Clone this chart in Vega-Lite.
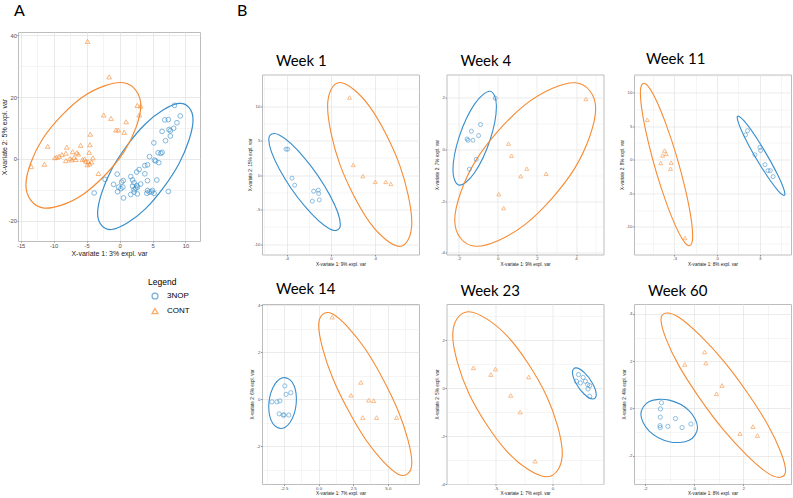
{
"$schema": "https://vega.github.io/schema/vega-lite/v6.json",
"background": "white",
"padding": {"left": 0, "top": 2, "right": 2, "bottom": 0},
"config": {
  "view": {"stroke": "#bdbdbd", "strokeWidth": 1},
  "font": "Liberation Sans",
  "axis": {"domain": false, "labelColor": "#4d4d4d", "labelFontSize": 4.4, "labelPadding": 0.5, "tickSize": 1.5, "tickColor": "#333333", "tickWidth": 0.5, "titleFontSize": 4.6, "titleFontWeight": "normal", "titleColor": "#1a1a1a", "titlePadding": 1.5, "gridColor": "#e3e3e3", "labelFont": "Liberation Sans", "titleFont": "Liberation Sans", "labelOverlap": false, "labelFlush": false},
  "title": {"font": "Lato", "fontWeight": "normal", "color": "#000000", "anchor": "start"}
},
"datasets": {
  "Ap": [
    {"g":"CONT","x":-4.85,"y":37.97},{"g":"CONT","x":-1.58,"y":26.5},{"g":"CONT","x":2.7,"y":17.3},{"g":"CONT","x":3.2,"y":17.1},{"g":"CONT","x":3.0,"y":14.2},{"g":"CONT","x":-2.4,"y":14.2},{"g":"CONT","x":-1.3,"y":13.1},{"g":"CONT","x":1.0,"y":12.0},{"g":"CONT","x":-0.55,"y":9.35},{"g":"CONT","x":-0.2,"y":9.35},{"g":"CONT","x":0.7,"y":8.6},{"g":"CONT","x":-4.45,"y":8.0},{"g":"CONT","x":-10.9,"y":4.1},{"g":"CONT","x":-8.0,"y":3.8},{"g":"CONT","x":-5.9,"y":4.4},{"g":"CONT","x":-4.5,"y":4.6},{"g":"CONT","x":-13.4,"y":-2.4},{"g":"CONT","x":-11.4,"y":-1.7},{"g":"CONT","x":-3.2,"y":-4.7},
    {"g":"CONT","x":-9.5,"y":0.55},{"g":"CONT","x":-9.15,"y":0.86},{"g":"CONT","x":-8.74,"y":1.4},{"g":"CONT","x":-8.14,"y":1.84},{"g":"CONT","x":-7.12,"y":2.35},{"g":"CONT","x":-6.47,"y":2.03},{"g":"CONT","x":-6.27,"y":1.6},{"g":"CONT","x":-7.53,"y":0.1},{"g":"CONT","x":-8.14,"y":-0.55},{"g":"CONT","x":-7.27,"y":-0.3},{"g":"CONT","x":-6.62,"y":-0.2},{"g":"CONT","x":-5.61,"y":-0.2},{"g":"CONT","x":-5.1,"y":-0.75},{"g":"CONT","x":-4.76,"y":-0.85},{"g":"CONT","x":-4.55,"y":-1.6},{"g":"CONT","x":-4.24,"y":-0.97},{"g":"CONT","x":-4.05,"y":0.32},{"g":"CONT","x":-4.6,"y":2.15},{"g":"CONT","x":-9.8,"y":0.4},{"g":"CONT","x":-6.9,"y":0.5},{"g":"CONT","x":-5.3,"y":0.0},{"g":"CONT","x":-4.9,"y":-1.9},
    {"g":"3NOP","x":8.33,"y":17.3},{"g":"3NOP","x":9.2,"y":13.9},{"g":"3NOP","x":6.86,"y":12.6},{"g":"3NOP","x":7.4,"y":12.7},{"g":"3NOP","x":8.7,"y":11.7},{"g":"3NOP","x":8.2,"y":9.9},{"g":"3NOP","x":7.5,"y":9.5},{"g":"3NOP","x":7.7,"y":9.1},{"g":"3NOP","x":6.45,"y":8.9},{"g":"3NOP","x":7.7,"y":7.4},{"g":"3NOP","x":6.97,"y":5.9},{"g":"3NOP","x":5.2,"y":5.2},{"g":"3NOP","x":5.85,"y":2.0},{"g":"3NOP","x":6.45,"y":2.15},{"g":"3NOP","x":6.26,"y":1.8},{"g":"3NOP","x":4.55,"y":0.75},{"g":"3NOP","x":5.3,"y":-0.4},{"g":"3NOP","x":5.5,"y":-0.65},{"g":"3NOP","x":5.95,"y":-1.2},{"g":"3NOP","x":3.83,"y":-2.15},{"g":"3NOP","x":4.24,"y":-1.9},{"g":"3NOP","x":2.97,"y":-3.4},{"g":"3NOP","x":2.6,"y":-4.2},{"g":"3NOP","x":3.83,"y":-4.8},{"g":"3NOP","x":-0.36,"y":-4.9},{"g":"3NOP","x":5.65,"y":-6.8},{"g":"3NOP","x":-2.2,"y":-6.6},{"g":"3NOP","x":4.24,"y":-7.0},{"g":"3NOP","x":0.3,"y":-7.5},{"g":"3NOP","x":0.56,"y":-7.0},{"g":"3NOP","x":1.7,"y":-5.7},{"g":"3NOP","x":1.97,"y":-6.8},{"g":"3NOP","x":2.2,"y":-7.7},{"g":"3NOP","x":1.97,"y":-8.8},{"g":"3NOP","x":2.47,"y":-9.45},{"g":"3NOP","x":2.73,"y":-9.1},{"g":"3NOP","x":2.2,"y":-9.9},{"g":"3NOP","x":-0.9,"y":-8.2},{"g":"3NOP","x":-0.15,"y":-9.1},{"g":"3NOP","x":0.2,"y":-9.6},{"g":"3NOP","x":0.5,"y":-9.1},{"g":"3NOP","x":-0.3,"y":-10.6},{"g":"3NOP","x":0.6,"y":-12.6},{"g":"3NOP","x":1.7,"y":-11.5},{"g":"3NOP","x":2.2,"y":-10.7},{"g":"3NOP","x":2.7,"y":-11.3},{"g":"3NOP","x":4.24,"y":-10.2},{"g":"3NOP","x":4.5,"y":-10.7},{"g":"3NOP","x":4.14,"y":-11.1},{"g":"3NOP","x":5.0,"y":-10.2},{"g":"3NOP","x":5.24,"y":-11.1},{"g":"3NOP","x":4.85,"y":-10.7},{"g":"3NOP","x":7.4,"y":-10.5},{"g":"3NOP","x":-3.85,"y":-11.0},{"g":"3NOP","x":3.2,"y":-8.1},{"g":"3NOP","x":2.6,"y":-8.6}
  ],
  "Ae": [
    {"g":"3NOP","i":0,"x":11.15,"y":12.67},{"g":"3NOP","i":1,"x":9.03,"y":17.95},{"g":"3NOP","i":2,"x":3.91,"y":11.3},{"g":"3NOP","i":3,"x":-1.21,"y":-3.39},{"g":"3NOP","i":4,"x":-3.33,"y":-17.51},{"g":"3NOP","i":5,"x":-1.21,"y":-22.79},{"g":"3NOP","i":6,"x":3.91,"y":-16.14},{"g":"3NOP","i":7,"x":9.03,"y":-1.45},
    {"g":"CONT","i":0,"x":3.22,"y":17.19},{"g":"CONT","i":1,"x":0.67,"y":24.6},{"g":"CONT","i":2,"x":-5.49,"y":20.17},{"g":"CONT","i":3,"x":-11.65,"y":6.51},{"g":"CONT","i":4,"x":-14.2,"y":-8.39},{"g":"CONT","i":5,"x":-11.65,"y":-15.8},{"g":"CONT","i":6,"x":-5.49,"y":-11.37},{"g":"CONT","i":7,"x":0.67,"y":2.29}
  ],
  "w1p": [
    {"g":"3NOP","x":-4.05,"y":3.77},{"g":"3NOP","x":-3.9,"y":3.77},{"g":"3NOP","x":-3.51,"y":-0.43},{"g":"3NOP","x":-3.27,"y":-1.45},{"g":"3NOP","x":-1.56,"y":-2.32},{"g":"3NOP","x":-1.14,"y":-2.17},{"g":"3NOP","x":-1.11,"y":-2.65},{"g":"3NOP","x":-1.68,"y":-3.77},{"g":"3NOP","x":-1.05,"y":-3.58},
    {"g":"CONT","x":1.68,"y":11.26},{"g":"CONT","x":2.02,"y":1.49},{"g":"CONT","x":2.88,"y":-0.14},{"g":"CONT","x":4.0,"y":-0.97},{"g":"CONT","x":4.95,"y":-0.97},{"g":"CONT","x":5.41,"y":-1.26}
  ],
  "w1e": [
    {"g":"3NOP","i":0,"x":0.85,"y":-7.15},{"g":"3NOP","i":1,"x":-0.1,"y":-2.89},{"g":"3NOP","i":2,"x":-2.38,"y":2.48},{"g":"3NOP","i":3,"x":-4.66,"y":5.82},{"g":"3NOP","i":4,"x":-5.61,"y":5.17},{"g":"3NOP","i":5,"x":-4.66,"y":0.91},{"g":"3NOP","i":6,"x":-2.38,"y":-4.46},{"g":"3NOP","i":7,"x":-0.1,"y":-7.8},
    {"g":"CONT","i":0,"x":7.3,"y":-6.86},{"g":"CONT","i":1,"x":6.19,"y":1.53},{"g":"CONT","i":2,"x":3.5,"y":9.94},{"g":"CONT","i":3,"x":0.81,"y":13.43},{"g":"CONT","i":4,"x":-0.3,"y":9.96},{"g":"CONT","i":5,"x":0.81,"y":1.57},{"g":"CONT","i":6,"x":3.5,"y":-6.84},{"g":"CONT","i":7,"x":6.19,"y":-10.33}
  ],
  "w4p": [
    {"g":"3NOP","x":-0.13,"y":1.99},{"g":"3NOP","x":-0.88,"y":0.97},{"g":"3NOP","x":-1.35,"y":0.71},{"g":"3NOP","x":-0.98,"y":0.54},{"g":"3NOP","x":-1.57,"y":0.41},{"g":"3NOP","x":-1.52,"y":0.36},{"g":"3NOP","x":-1.27,"y":0.36},{"g":"3NOP","x":-1.1,"y":-0.38},{"g":"3NOP","x":-1.45,"y":-0.76},
    {"g":"CONT","x":4.5,"y":1.96},{"g":"CONT","x":0.55,"y":0.23},{"g":"CONT","x":0.7,"y":-0.24},{"g":"CONT","x":1.48,"y":-0.74},{"g":"CONT","x":1.17,"y":-1.03},{"g":"CONT","x":2.47,"y":-0.94},{"g":"CONT","x":0.05,"y":-1.73},{"g":"CONT","x":0.3,"y":-2.27}
  ],
  "w4e": [
    {"g":"3NOP","i":0,"x":-0.07,"y":1.68},{"g":"3NOP","i":1,"x":-0.395,"y":2.26},{"g":"3NOP","i":2,"x":-1.18,"y":1.77},{"g":"3NOP","i":3,"x":-1.965,"y":0.51},{"g":"3NOP","i":4,"x":-2.29,"y":-0.8},{"g":"3NOP","i":5,"x":-1.965,"y":-1.38},{"g":"3NOP","i":6,"x":-1.18,"y":-0.89},{"g":"3NOP","i":7,"x":-0.395,"y":0.37},
    {"g":"CONT","i":0,"x":5.0,"y":1.58},{"g":"CONT","i":1,"x":3.95,"y":2.59},{"g":"CONT","i":2,"x":1.4,"y":1.74},{"g":"CONT","i":3,"x":-1.15,"y":-0.46},{"g":"CONT","i":4,"x":-2.2,"y":-2.74},{"g":"CONT","i":5,"x":-1.15,"y":-3.75},{"g":"CONT","i":6,"x":1.4,"y":-2.9},{"g":"CONT","i":7,"x":3.95,"y":-0.7}
  ],
  "w11p": [
    {"g":"CONT","x":-4.91,"y":5.94},{"g":"CONT","x":-3.7,"y":1.37},{"g":"CONT","x":-3.84,"y":0.63},{"g":"CONT","x":-3.58,"y":0.88},{"g":"CONT","x":-3.96,"y":-0.49},{"g":"CONT","x":-3.23,"y":-0.44},{"g":"CONT","x":-3.28,"y":-1.33},{"g":"CONT","x":-2.26,"y":-11.65},
    {"g":"3NOP","x":2.14,"y":4.32},{"g":"3NOP","x":2.0,"y":3.69},{"g":"3NOP","x":3.01,"y":1.87},{"g":"3NOP","x":3.06,"y":1.37},{"g":"3NOP","x":2.66,"y":0.74},{"g":"3NOP","x":3.37,"y":-0.74},{"g":"3NOP","x":3.58,"y":-1.62},{"g":"3NOP","x":3.74,"y":-1.62},{"g":"3NOP","x":3.94,"y":-2.51}
  ],
  "w11e": [
    {"g":"CONT","i":0,"x":-1.72,"y":-11.42},{"g":"CONT","i":1,"x":-2.26,"y":-4.19},{"g":"CONT","i":2,"x":-3.56,"y":5.07},{"g":"CONT","i":3,"x":-4.86,"y":10.95},{"g":"CONT","i":4,"x":-5.4,"y":10.0},{"g":"CONT","i":5,"x":-4.86,"y":2.77},{"g":"CONT","i":6,"x":-3.56,"y":-6.49},{"g":"CONT","i":7,"x":-2.26,"y":-12.37},
    {"g":"3NOP","i":0,"x":4.77,"y":-5.13},{"g":"3NOP","i":1,"x":4.28,"y":-2.32},{"g":"3NOP","i":2,"x":3.09,"y":2.19},{"g":"3NOP","i":3,"x":1.9,"y":5.77},{"g":"3NOP","i":4,"x":1.41,"y":6.31},{"g":"3NOP","i":5,"x":1.9,"y":3.5},{"g":"3NOP","i":6,"x":3.09,"y":-1.01},{"g":"3NOP","i":7,"x":4.28,"y":-4.59}
  ],
  "w14p": [
    {"g":"CONT","x":0.98,"y":3.5},{"g":"CONT","x":3.05,"y":0.72},{"g":"CONT","x":2.34,"y":0.17},{"g":"CONT","x":3.62,"y":-0.04},{"g":"CONT","x":3.98,"y":-0.06},{"g":"CONT","x":3.19,"y":-0.78},{"g":"CONT","x":4.19,"y":-0.78},{"g":"CONT","x":5.64,"y":-0.78},
    {"g":"3NOP","x":-2.45,"y":0.57},{"g":"3NOP","x":-2.02,"y":0.28},{"g":"3NOP","x":-2.36,"y":0.21},{"g":"3NOP","x":-3.38,"y":-0.11},{"g":"3NOP","x":-3.02,"y":-0.11},{"g":"3NOP","x":-2.81,"y":-0.07},{"g":"3NOP","x":-2.86,"y":-0.62},{"g":"3NOP","x":-2.57,"y":-0.67},{"g":"3NOP","x":-2.5,"y":-0.67},{"g":"3NOP","x":-2.16,"y":-0.67}
  ],
  "w14e": [
    {"g":"3NOP","i":0,"x":-1.61,"y":0.0},{"g":"3NOP","i":1,"x":-1.9,"y":0.715},{"g":"3NOP","i":2,"x":-2.61,"y":0.914},{"g":"3NOP","i":3,"x":-3.32,"y":0.484},{"g":"3NOP","i":4,"x":-3.61,"y":-0.32},{"g":"3NOP","i":5,"x":-3.32,"y":-1.035},{"g":"3NOP","i":6,"x":-2.61,"y":-1.234},{"g":"3NOP","i":7,"x":-1.9,"y":-0.804},
    {"g":"CONT","i":0,"x":6.74,"y":-2.69},{"g":"CONT","i":1,"x":5.75,"y":-0.49},{"g":"CONT","i":2,"x":3.37,"y":2.14},{"g":"CONT","i":3,"x":0.99,"y":3.64},{"g":"CONT","i":4,"x":0.0,"y":3.14},{"g":"CONT","i":5,"x":0.99,"y":0.94},{"g":"CONT","i":6,"x":3.37,"y":-1.69},{"g":"CONT","i":7,"x":5.75,"y":-3.19}
  ],
  "w23p": [
    {"g":"CONT","x":-6.98,"y":0.84},{"g":"CONT","x":-5.03,"y":0.79},{"g":"CONT","x":-5.44,"y":0.56},{"g":"CONT","x":-2.09,"y":0.46},{"g":"CONT","x":-3.69,"y":-0.31},{"g":"CONT","x":-2.85,"y":-1.0},{"g":"CONT","x":-1.54,"y":-3.05},
    {"g":"3NOP","x":2.3,"y":0.56},{"g":"3NOP","x":2.71,"y":0.44},{"g":"3NOP","x":2.12,"y":0.28},{"g":"3NOP","x":2.47,"y":0.21},{"g":"3NOP","x":2.91,"y":0.28},{"g":"3NOP","x":3.11,"y":0.14},{"g":"3NOP","x":3.29,"y":0.1},{"g":"3NOP","x":3.14,"y":-0.04},{"g":"3NOP","x":3.29,"y":-0.35}
  ],
  "w23e": [
    {"g":"3NOP","i":0,"x":3.87,"y":-0.28},{"g":"3NOP","i":1,"x":3.56,"y":0.18},{"g":"3NOP","i":2,"x":2.82,"y":0.64},{"g":"3NOP","i":3,"x":2.08,"y":0.84},{"g":"3NOP","i":4,"x":1.77,"y":0.66},{"g":"3NOP","i":5,"x":2.08,"y":0.2},{"g":"3NOP","i":6,"x":2.82,"y":-0.26},{"g":"3NOP","i":7,"x":3.56,"y":-0.46},
    {"g":"CONT","i":0,"x":0.87,"y":-2.72},{"g":"CONT","i":1,"x":-0.55,"y":-0.3},{"g":"CONT","i":2,"x":-3.97,"y":2.15},{"g":"CONT","i":3,"x":-7.39,"y":3.18},{"g":"CONT","i":4,"x":-8.81,"y":2.2},{"g":"CONT","i":5,"x":-7.39,"y":-0.22},{"g":"CONT","i":6,"x":-3.97,"y":-2.67},{"g":"CONT","i":7,"x":-0.55,"y":-3.7}
  ],
  "w60p": [
    {"g":"CONT","x":0.43,"y":2.39},{"g":"CONT","x":0.48,"y":1.92},{"g":"CONT","x":-0.38,"y":1.86},{"g":"CONT","x":1.14,"y":0.97},{"g":"CONT","x":0.91,"y":0.62},{"g":"CONT","x":2.4,"y":-0.77},{"g":"CONT","x":1.87,"y":-1.07},{"g":"CONT","x":2.58,"y":-1.15},
    {"g":"3NOP","x":-1.33,"y":0.24},{"g":"3NOP","x":-1.37,"y":-0.02},{"g":"3NOP","x":-1.38,"y":-0.37},{"g":"3NOP","x":-0.76,"y":-0.43},{"g":"3NOP","x":-1.39,"y":-0.73},{"g":"3NOP","x":-1.38,"y":-0.81},{"g":"3NOP","x":-1.07,"y":-0.76},{"g":"3NOP","x":-0.49,"y":-0.81},{"g":"3NOP","x":-0.13,"y":-0.66}
  ],
  "w60e": [
    {"g":"3NOP","i":0,"x":0.14,"y":-0.81},{"g":"3NOP","i":1,"x":-0.2,"y":-0.1},{"g":"3NOP","i":2,"x":-1.015,"y":0.35},{"g":"3NOP","i":3,"x":-1.83,"y":0.29},{"g":"3NOP","i":4,"x":-2.17,"y":-0.25},{"g":"3NOP","i":5,"x":-1.83,"y":-0.96},{"g":"3NOP","i":6,"x":-1.015,"y":-1.41},{"g":"3NOP","i":7,"x":-0.2,"y":-1.35},
    {"g":"CONT","i":0,"x":3.73,"y":-2.63},{"g":"CONT","i":1,"x":2.99,"y":-0.67},{"g":"CONT","i":2,"x":1.19,"y":2.02},{"g":"CONT","i":3,"x":-0.61,"y":3.85},{"g":"CONT","i":4,"x":-1.35,"y":3.75},{"g":"CONT","i":5,"x":-0.61,"y":1.79},{"g":"CONT","i":6,"x":1.19,"y":-0.9},{"g":"CONT","i":7,"x":2.99,"y":-2.73}
  ]
},
"resolve": {"scale": {"x": "independent", "y": "independent", "color": "independent", "shape": "independent", "stroke": "independent"}, "legend": {"color": "independent", "shape": "independent"}},
"bounds": "full",
"spacing": 36,
"hconcat": [
  {
    "width": 182, "height": 209,
    "title": {"text": "A", "frame": "group", "dx": -4, "offset": 12.6, "fontSize": 16},
    "encoding": {
      "x": {"field": "x", "type": "quantitative", "scale": {"domain": [-15.4, 12.2], "nice": false, "zero": false},
        "axis": {"title": "X-variate 1: 3% expl. var", "values": [-15,-12.5,-10,-7.5,-5,-2.5,0,2.5,5,7.5,10], "labelExpr": "datum.value % 5 == 0 ? '' + datum.value : ''", "gridWidth": {"condition": {"test": "datum.value % 5 != 0", "value": 0.4}, "value": 0.8}, "tickOpacity": {"condition": {"test": "datum.value % 5 != 0", "value": 0}, "value": 1}, "labelFontSize": 5.8, "titleFontSize": 7, "tickSize": 1.2, "labelPadding": 0.3, "titlePadding": 1.5}},
      "y": {"field": "y", "type": "quantitative", "scale": {"domain": [-26.5, 41], "nice": false, "zero": false},
        "axis": {"title": "X-variate 2: 5% expl. var", "values": [-20,-10,0,10,20,30,40], "labelExpr": "datum.value % 20 == 0 ? '' + datum.value : ''", "gridWidth": {"condition": {"test": "datum.value % 20 != 0", "value": 0.4}, "value": 0.8}, "tickOpacity": {"condition": {"test": "datum.value % 20 != 0", "value": 0}, "value": 1}, "labelFontSize": 5.8, "titleFontSize": 7, "tickSize": 1.2, "labelPadding": 0.3, "titlePadding": 0.3}}
    },
    "layer": [
      {"data": {"name": "Ae"}, "transform": [{"filter": "datum.g == '3NOP'"}], "mark": {"type": "line", "interpolate": "cardinal-closed", "strokeWidth": 1.2, "color": "#388ECC"},
       "encoding": {"order": {"field": "i", "type": "quantitative"}}},
      {"data": {"name": "Ae"}, "transform": [{"filter": "datum.g == 'CONT'"}], "mark": {"type": "line", "interpolate": "cardinal-closed", "strokeWidth": 1.2, "color": "#F68B33"},
       "encoding": {"order": {"field": "i", "type": "quantitative"}}},
      {"data": {"name": "Ap"}, "mark": {"type": "point", "filled": false, "size": 22, "strokeWidth": 0.9},
       "encoding": {
         "color": {"field": "g", "type": "nominal", "title": "Legend", "scale": {"domain": ["3NOP","CONT"], "range": ["#388ECC","#F68B33"]},
           "legend": {"orient": "none", "legendX": 130, "legendY": 245.5, "direction": "vertical", "titleFontSize": 8.5, "titleFontWeight": "normal", "titleFont": "Liberation Sans", "titleColor": "#000000", "titlePadding": 6, "labelFontSize": 8, "labelFont": "Liberation Sans", "labelColor": "#000000", "symbolSize": 35, "symbolStrokeWidth": 1.3, "rowPadding": 3, "labelOffset": 8, "symbolOffset": 3}},
         "shape": {"field": "g", "type": "nominal", "title": "Legend", "scale": {"domain": ["3NOP","CONT"], "range": ["circle","triangle-up"]},
           "legend": {"orient": "none", "legendX": 130, "legendY": 245.5, "direction": "vertical", "titleFontSize": 8.5, "titleFontWeight": "normal", "titleFont": "Liberation Sans", "titleColor": "#000000", "titlePadding": 6, "labelFontSize": 8, "labelFont": "Liberation Sans", "labelColor": "#000000", "symbolSize": 35, "symbolStrokeWidth": 1.3, "rowPadding": 3, "labelOffset": 8, "symbolOffset": 3}}
       }}
    ]
  },
  {
    "bounds": "full",
    "align": "each",
    "columns": 3,
    "spacing": {"row": 14.5, "column": 13.5},
    "resolve": {"scale": {"x": "independent", "y": "independent", "color": "independent", "shape": "independent", "stroke": "independent"}},
    "concat": [
      {"width": 1, "height": 3.3, "view": {"stroke": null},
       "title": {"text": "B", "frame": "group", "dx": -25, "offset": 12.6, "fontSize": 16},
       "data": {"values": [{"k": 0}]}, "mark": {"type": "point", "opacity": 0, "size": 1}, "encoding": {}},
      {"width": 1, "height": 3.3, "view": {"stroke": null},
       "data": {"values": [{"k": 0}]}, "mark": {"type": "point", "opacity": 0, "size": 1}, "encoding": {}},
      {"width": 1, "height": 3.3, "view": {"stroke": null},
       "data": {"values": [{"k": 0}]}, "mark": {"type": "point", "opacity": 0, "size": 1}, "encoding": {}},
      {
        "width": 157, "height": 180,
        "title": {"text": "Week 1", "frame": "group", "dx": 14, "offset": 6, "fontSize": 15},
        "encoding": {
          "x": {"field": "x", "type": "quantitative", "scale": {"domain": [-6.22, 7.95], "nice": false, "zero": false},
            "axis": {"title": "X-variate 1: 9% expl. var", "values": [-6,-4,-2,0,2,4,6], "labelExpr": "datum.value % 4 == 0 ? '' + datum.value : ''", "gridWidth": {"condition": {"test": "datum.value % 4 != 0", "value": 0.35}, "value": 0.7}, "tickOpacity": {"condition": {"test": "datum.value % 4 != 0", "value": 0}, "value": 1}}},
          "y": {"field": "y", "type": "quantitative", "scale": {"domain": [-11.5, 14.6], "nice": false, "zero": false},
            "axis": {"title": "X-variate 2: 15% expl. var", "values": [-10,-7.5,-5,-2.5,0,2.5,5,7.5,10,12.5], "labelExpr": "datum.value % 5 == 0 ? '' + datum.value : ''", "gridWidth": {"condition": {"test": "datum.value % 5 != 0", "value": 0.35}, "value": 0.7}, "tickOpacity": {"condition": {"test": "datum.value % 5 != 0", "value": 0}, "value": 1}}}
        },
        "layer": [
          {"data": {"name": "w1e"}, "mark": {"type": "line", "interpolate": "cardinal-closed", "strokeWidth": 1.1},
           "encoding": {"stroke": {"field": "g", "type": "nominal", "scale": {"domain": ["3NOP","CONT"], "range": ["#388ECC","#F68B33"]}, "legend": null}, "order": {"field": "i", "type": "quantitative"}}},
          {"data": {"name": "w1p"}, "mark": {"type": "point", "filled": false, "size": 16, "strokeWidth": 0.8},
           "encoding": {"color": {"field": "g", "type": "nominal", "scale": {"domain": ["3NOP","CONT"], "range": ["#388ECC","#F68B33"]}, "legend": null},
             "shape": {"field": "g", "type": "nominal", "scale": {"domain": ["3NOP","CONT"], "range": ["circle","triangle-up"]}, "legend": null}}}
        ]
      },
      {
        "width": 157, "height": 180,
        "title": {"text": "Week 4", "frame": "group", "dx": 14, "offset": 6, "fontSize": 15},
        "encoding": {
          "x": {"field": "x", "type": "quantitative", "scale": {"domain": [-2.62, 5.4], "nice": false, "zero": false},
            "axis": {"title": "X-variate 1: 9% expl. var", "values": [-2,-1,0,1,2,3,4,5], "labelExpr": "datum.value % 2 == 0 ? '' + datum.value : ''", "gridWidth": {"condition": {"test": "datum.value % 2 != 0", "value": 0.35}, "value": 0.7}, "tickOpacity": {"condition": {"test": "datum.value % 2 != 0", "value": 0}, "value": 1}}},
          "y": {"field": "y", "type": "quantitative", "scale": {"domain": [-4.07, 2.91], "nice": false, "zero": false},
            "axis": {"title": "X-variate 2: 7% expl. var", "values": [-4,-3,-2,-1,0,1,2], "labelExpr": "datum.value % 2 == 0 ? '' + datum.value : ''", "gridWidth": {"condition": {"test": "datum.value % 2 != 0", "value": 0.35}, "value": 0.7}, "tickOpacity": {"condition": {"test": "datum.value % 2 != 0", "value": 0}, "value": 1}}}
        },
        "layer": [
          {"data": {"name": "w4e"}, "mark": {"type": "line", "interpolate": "cardinal-closed", "strokeWidth": 1.1},
           "encoding": {"stroke": {"field": "g", "type": "nominal", "scale": {"domain": ["3NOP","CONT"], "range": ["#388ECC","#F68B33"]}, "legend": null}, "order": {"field": "i", "type": "quantitative"}}},
          {"data": {"name": "w4p"}, "mark": {"type": "point", "filled": false, "size": 16, "strokeWidth": 0.8},
           "encoding": {"color": {"field": "g", "type": "nominal", "scale": {"domain": ["3NOP","CONT"], "range": ["#388ECC","#F68B33"]}, "legend": null},
             "shape": {"field": "g", "type": "nominal", "scale": {"domain": ["3NOP","CONT"], "range": ["circle","triangle-up"]}, "legend": null}}}
        ]
      },
      {
        "width": 157, "height": 180,
        "title": {"text": "Week 11", "frame": "group", "dx": 12, "offset": 6, "fontSize": 15},
        "encoding": {
          "x": {"field": "x", "type": "quantitative", "scale": {"domain": [-5.85, 5.2], "nice": false, "zero": false},
            "axis": {"title": "X-variate 1: 8% expl. var", "values": [-4.5,-3,-1.5,0,1.5,3,4.5], "labelExpr": "datum.value % 3 == 0 ? '' + datum.value : ''", "gridWidth": {"condition": {"test": "datum.value % 3 != 0", "value": 0.35}, "value": 0.7}, "tickOpacity": {"condition": {"test": "datum.value % 3 != 0", "value": 0}, "value": 1}}},
          "y": {"field": "y", "type": "quantitative", "scale": {"domain": [-14.1, 12.68], "nice": false, "zero": false},
            "axis": {"title": "X-variate 2: 8% expl. var", "values": [-12.5,-10,-7.5,-5,-2.5,0,2.5,5,7.5,10,12.5], "labelExpr": "datum.value % 5 == 0 ? '' + datum.value : ''", "gridWidth": {"condition": {"test": "datum.value % 5 != 0", "value": 0.35}, "value": 0.7}, "tickOpacity": {"condition": {"test": "datum.value % 5 != 0", "value": 0}, "value": 1}}}
        },
        "layer": [
          {"data": {"name": "w11e"}, "mark": {"type": "line", "interpolate": "cardinal-closed", "strokeWidth": 1.1},
           "encoding": {"stroke": {"field": "g", "type": "nominal", "scale": {"domain": ["3NOP","CONT"], "range": ["#388ECC","#F68B33"]}, "legend": null}, "order": {"field": "i", "type": "quantitative"}}},
          {"data": {"name": "w11p"}, "mark": {"type": "point", "filled": false, "size": 16, "strokeWidth": 0.8},
           "encoding": {"color": {"field": "g", "type": "nominal", "scale": {"domain": ["3NOP","CONT"], "range": ["#388ECC","#F68B33"]}, "legend": null},
             "shape": {"field": "g", "type": "nominal", "scale": {"domain": ["3NOP","CONT"], "range": ["circle","triangle-up"]}, "legend": null}}}
        ]
      },
      {
        "width": 157, "height": 180,
        "title": {"text": "Week 14", "frame": "group", "dx": 14, "offset": 5.3, "fontSize": 15},
        "encoding": {
          "x": {"field": "x", "type": "quantitative", "scale": {"domain": [-4.1, 7.26], "nice": false, "zero": false},
            "axis": {"title": "X-variate 1: 7% expl. var", "values": [-3.75,-2.5,-1.25,0,1.25,2.5,3.75,5,6.25], "labelExpr": "datum.value == -2.5 ? '-2.5' : datum.value % 2.5 == 0 ? format(datum.value, '.1f') : ''", "gridWidth": {"condition": {"test": "datum.value % 2.5 != 0", "value": 0.35}, "value": 0.7}, "tickOpacity": {"condition": {"test": "datum.value % 2.5 != 0", "value": 0}, "value": 1}}},
          "y": {"field": "y", "type": "quantitative", "scale": {"domain": [-3.61, 4.06], "nice": false, "zero": false},
            "axis": {"title": "X-variate 2: 6% expl. var", "values": [-3,-2,-1,0,1,2,3,4], "labelExpr": "datum.value % 2 == 0 ? '' + datum.value : ''", "gridWidth": {"condition": {"test": "datum.value % 2 != 0", "value": 0.35}, "value": 0.7}, "tickOpacity": {"condition": {"test": "datum.value % 2 != 0", "value": 0}, "value": 1}}}
        },
        "layer": [
          {"data": {"name": "w14e"}, "mark": {"type": "line", "interpolate": "cardinal-closed", "strokeWidth": 1.1},
           "encoding": {"stroke": {"field": "g", "type": "nominal", "scale": {"domain": ["3NOP","CONT"], "range": ["#388ECC","#F68B33"]}, "legend": null}, "order": {"field": "i", "type": "quantitative"}}},
          {"data": {"name": "w14p"}, "mark": {"type": "point", "filled": false, "size": 18, "strokeWidth": 0.8},
           "encoding": {"color": {"field": "g", "type": "nominal", "scale": {"domain": ["3NOP","CONT"], "range": ["#388ECC","#F68B33"]}, "legend": null},
             "shape": {"field": "g", "type": "nominal", "scale": {"domain": ["3NOP","CONT"], "range": ["circle","triangle-up"]}, "legend": null}}}
        ]
      },
      {
        "width": 157, "height": 180,
        "title": {"text": "Week 23", "frame": "group", "dx": 14, "offset": 5.3, "fontSize": 15},
        "encoding": {
          "x": {"field": "x", "type": "quantitative", "scale": {"domain": [-9.36, 4.51], "nice": false, "zero": false},
            "axis": {"title": "X-variate 1: 7% expl. var", "values": [-7.5,-5,-2.5,0,2.5], "labelExpr": "datum.value % 5 == 0 ? '' + datum.value : ''", "gridWidth": {"condition": {"test": "datum.value % 5 != 0", "value": 0.35}, "value": 0.7}, "tickOpacity": {"condition": {"test": "datum.value % 5 != 0", "value": 0}, "value": 1}}},
          "y": {"field": "y", "type": "quantitative", "scale": {"domain": [-4.0, 3.5], "nice": false, "zero": false},
            "axis": {"title": "X-variate 2: 5% expl. var", "values": [-4,-3,-2,-1,0,1,2,3], "labelExpr": "datum.value % 2 == 0 ? '' + datum.value : ''", "gridWidth": {"condition": {"test": "datum.value % 2 != 0", "value": 0.35}, "value": 0.7}, "tickOpacity": {"condition": {"test": "datum.value % 2 != 0", "value": 0}, "value": 1}}}
        },
        "layer": [
          {"data": {"name": "w23e"}, "mark": {"type": "line", "interpolate": "cardinal-closed", "strokeWidth": 1.1},
           "encoding": {"stroke": {"field": "g", "type": "nominal", "scale": {"domain": ["3NOP","CONT"], "range": ["#388ECC","#F68B33"]}, "legend": null}, "order": {"field": "i", "type": "quantitative"}}},
          {"data": {"name": "w23p"}, "mark": {"type": "point", "filled": false, "size": 18, "strokeWidth": 0.8},
           "encoding": {"color": {"field": "g", "type": "nominal", "scale": {"domain": ["3NOP","CONT"], "range": ["#388ECC","#F68B33"]}, "legend": null},
             "shape": {"field": "g", "type": "nominal", "scale": {"domain": ["3NOP","CONT"], "range": ["circle","triangle-up"]}, "legend": null}}}
        ]
      },
      {
        "width": 157, "height": 180,
        "title": {"text": "Week 60", "frame": "group", "dx": 14, "offset": 5.3, "fontSize": 15},
        "encoding": {
          "x": {"field": "x", "type": "quantitative", "scale": {"domain": [-2.45, 3.95], "nice": false, "zero": false},
            "axis": {"title": "X-variate 1: 8% expl. var", "values": [-2,-1,0,1,2,3], "labelExpr": "datum.value % 2 == 0 ? '' + datum.value : ''", "gridWidth": {"condition": {"test": "datum.value % 2 != 0", "value": 0.35}, "value": 0.7}, "tickOpacity": {"condition": {"test": "datum.value % 2 != 0", "value": 0}, "value": 1}}},
          "y": {"field": "y", "type": "quantitative", "scale": {"domain": [-3.2, 4.42], "nice": false, "zero": false},
            "axis": {"title": "X-variate 2: 4% expl. var", "values": [-3,-2,-1,0,1,2,3,4], "labelExpr": "datum.value % 2 == 0 ? '' + datum.value : ''", "gridWidth": {"condition": {"test": "datum.value % 2 != 0", "value": 0.35}, "value": 0.7}, "tickOpacity": {"condition": {"test": "datum.value % 2 != 0", "value": 0}, "value": 1}}}
        },
        "layer": [
          {"data": {"name": "w60e"}, "mark": {"type": "line", "interpolate": "cardinal-closed", "strokeWidth": 1.1},
           "encoding": {"stroke": {"field": "g", "type": "nominal", "scale": {"domain": ["3NOP","CONT"], "range": ["#388ECC","#F68B33"]}, "legend": null}, "order": {"field": "i", "type": "quantitative"}}},
          {"data": {"name": "w60p"}, "mark": {"type": "point", "filled": false, "size": 18, "strokeWidth": 0.8},
           "encoding": {"color": {"field": "g", "type": "nominal", "scale": {"domain": ["3NOP","CONT"], "range": ["#388ECC","#F68B33"]}, "legend": null},
             "shape": {"field": "g", "type": "nominal", "scale": {"domain": ["3NOP","CONT"], "range": ["circle","triangle-up"]}, "legend": null}}}
        ]
      }
    ]
  }
]
}
